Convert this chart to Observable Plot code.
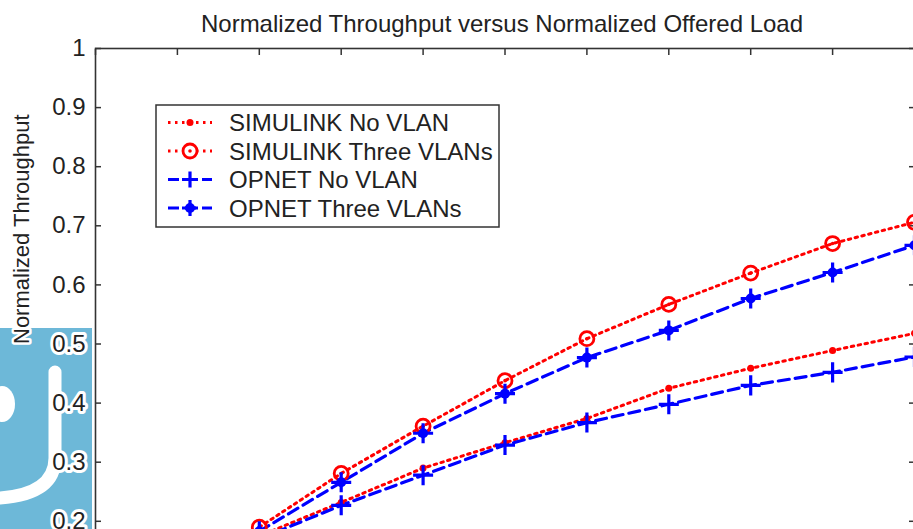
<!DOCTYPE html>
<html><head><meta charset="utf-8">
<script src="https://cdn.jsdelivr.net/npm/d3@7"></script>
<script src="https://cdn.jsdelivr.net/npm/@observablehq/plot@0.6"></script>
<style>
html,body{margin:0;padding:0;background:#fff;overflow:hidden;}
#wrap{position:relative;width:913px;height:529px;overflow:hidden;font-family:"Liberation Sans",Arial,sans-serif;}
#wm{position:absolute;left:0;top:328px;width:92px;height:201px;background:#6db8d8;}
#wm svg{position:absolute;left:0;top:0;}
#chart{position:absolute;left:0;top:0;}
#overlay{position:absolute;left:0;top:0;pointer-events:none;}
</style></head><body>
<div id="wrap">
  <div id="wm"><svg width="92" height="201">
    <path d="M55,44 L55,130 Q55,166 0,170" fill="none" stroke="#fff" stroke-width="13" stroke-linecap="round"/>
    <ellipse cx="2" cy="76" rx="13" ry="18" fill="#fff"/>
  </svg></div>
  <div id="chart"></div>
  <svg id="overlay" width="913" height="529"></svg>
</div>
<script>
// ---- data ----
const offeredLoad = [0.2, 0.3, 0.4, 0.5, 0.6, 0.7, 0.8, 0.9, 1.0];
const simulinkNoVlan     = [0.175, 0.232, 0.290, 0.333, 0.374, 0.425, 0.459, 0.489, 0.518];
const simulinkThreeVlans = [0.190, 0.281, 0.361, 0.438, 0.509, 0.567, 0.620, 0.670, 0.706];
const opnetNoVlan        = [0.170, 0.227, 0.278, 0.329, 0.367, 0.398, 0.430, 0.452, 0.478];
const opnetThreeVlans    = [0.183, 0.266, 0.349, 0.416, 0.477, 0.523, 0.577, 0.621, 0.667];
const seriesNames = ["SIMULINK No VLAN", "SIMULINK Three VLANs", "OPNET No VLAN", "OPNET Three VLANs"];
const yTicks = [0, 0.1, 0.2, 0.3, 0.4, 0.5, 0.6, 0.7, 0.8, 0.9, 1];
const yTickLabels = ["0", "0.1", "0.2", "0.3", "0.4", "0.5", "0.6", "0.7", "0.8", "0.9", "1"];
const xTicks = [0, 0.1, 0.2, 0.3, 0.4, 0.5, 0.6, 0.7, 0.8, 0.9, 1];
const titleText = "Normalized Throughput versus Normalized Offered Load";
const yLabelText = "Normalized Throughput";

const rows = (vals) => offeredLoad.map((x, i) => ({x, y: vals[i]}));
const sNo = rows(simulinkNoVlan), sThree = rows(simulinkThreeVlans);
const oNo = rows(opnetNoVlan), oThree = rows(opnetThreeVlans);

const RED = "#ff0000", BLUE = "#0000ff", AX = "#333";
const dotted = "2.5,4.5", dashed = "11,6";

const chart = Plot.plot({
  width: 930, height: 660,
  marginLeft: 95, marginRight: 16, marginTop: 48, marginBottom: 21,
  style: {background: "transparent", maxWidth: "none", overflow: "visible", fontFamily: "'Liberation Sans', Arial, sans-serif"},
  x: {domain: [0, 1]},
  y: {domain: [0, 1]},
  marks: [
    Plot.frame({fill: "white", stroke: null}),
    Plot.axisX(xTicks, {anchor: "top", tickSize: 6, dy: 6, tickFormat: () => "", label: null, stroke: AX, strokeWidth: 1.5}),
    Plot.axisY(yTicks, {anchor: "left", tickSize: 6, dx: 6, tickFormat: () => "", label: null, stroke: AX, strokeWidth: 1.5}),
    Plot.axisY(yTicks, {anchor: "right", tickSize: 6, dx: -6, tickFormat: () => "", label: null, stroke: AX, strokeWidth: 1.5}),
    Plot.text(yTicks, {y: d => d, text: (d, i) => yTickLabels[i], frameAnchor: "left", dx: -10, textAnchor: "end",
      fontSize: 24, fill: "#222", stroke: "white", strokeWidth: 6}),
    Plot.text([yLabelText], {frameAnchor: "left", rotate: -90, dx: -74, fontSize: 22, fill: "#222", stroke: "white", strokeWidth: 5}),
    Plot.line(sNo, {x: "x", y: "y", stroke: RED, strokeWidth: 3, strokeDasharray: dotted}),
    Plot.line(sThree, {x: "x", y: "y", stroke: RED, strokeWidth: 3, strokeDasharray: dotted}),
    Plot.line(oNo, {x: "x", y: "y", stroke: BLUE, strokeWidth: 3.2, strokeDasharray: dashed}),
    Plot.line(oThree, {x: "x", y: "y", stroke: BLUE, strokeWidth: 3.2, strokeDasharray: dashed}),
    Plot.dot(sNo, {x: "x", y: "y", r: 3.5, fill: RED}),
    Plot.dot(sThree, {x: "x", y: "y", r: 7, stroke: RED, strokeWidth: 2.8, fill: "none"}),
    Plot.dot(sThree, {x: "x", y: "y", r: 1.8, fill: RED}),
    Plot.dot(oNo, {x: "x", y: "y", symbol: "plus", r: 6.5, stroke: BLUE, strokeWidth: 3.2}),
    Plot.dot(oThree, {x: "x", y: "y", symbol: "plus", r: 6.5, stroke: BLUE, strokeWidth: 3.2}),
    Plot.dot(oThree, {x: "x", y: "y", r: 5, fill: BLUE}),
    Plot.frame({stroke: AX, strokeWidth: 1.6})
  ]
});
document.getElementById("chart").appendChild(chart);

// ---- title & legend overlay ----
const ov = d3.select("#overlay");
const FONT = "'Liberation Sans', Arial, sans-serif";
ov.append("text").attr("x", 502).attr("y", 32).attr("text-anchor", "middle")
  .attr("font-family", FONT).attr("font-size", 24).attr("fill", "#222").text(titleText);

const lg = ov.append("g");
lg.append("rect").attr("x", 156).attr("y", 105).attr("width", 343).attr("height", 122)
  .attr("fill", "white").attr("stroke", AX).attr("stroke-width", 1.5);
const styles = [
  {c: RED, dash: dotted, w: 3, m: "dot"},
  {c: RED, dash: dotted, w: 3, m: "circle"},
  {c: BLUE, dash: dashed, w: 3.2, m: "plus"},
  {c: BLUE, dash: dashed, w: 3.2, m: "plusdot"}
];
seriesNames.forEach((name, i) => {
  const cy = 122.5 + i * 28.5, s = styles[i];
  const g = lg.append("g");
  g.append("line").attr("x1", 168).attr("x2", 212).attr("y1", cy).attr("y2", cy)
    .attr("stroke", s.c).attr("stroke-width", s.w).attr("stroke-dasharray", s.dash);
  if (s.m === "dot") g.append("circle").attr("cx", 190).attr("cy", cy).attr("r", 3.5).attr("fill", s.c);
  if (s.m === "circle") {
    g.append("circle").attr("cx", 190).attr("cy", cy).attr("r", 7).attr("fill", "white").attr("stroke", s.c).attr("stroke-width", 2.8);
    g.append("circle").attr("cx", 190).attr("cy", cy).attr("r", 1.8).attr("fill", s.c);
  }
  if (s.m === "plus" || s.m === "plusdot") {
    g.append("path").attr("d", `M182,${cy}H198M190,${cy - 8}V${cy + 8}`).attr("stroke", s.c).attr("stroke-width", 3.2);
    if (s.m === "plusdot") g.append("circle").attr("cx", 190).attr("cy", cy).attr("r", 5).attr("fill", s.c);
  }
  g.append("text").attr("x", 229).attr("y", cy + 8.5).attr("font-family", FONT).attr("font-size", 24)
    .attr("fill", "#222").text(name);
});
</script>
</body></html>
